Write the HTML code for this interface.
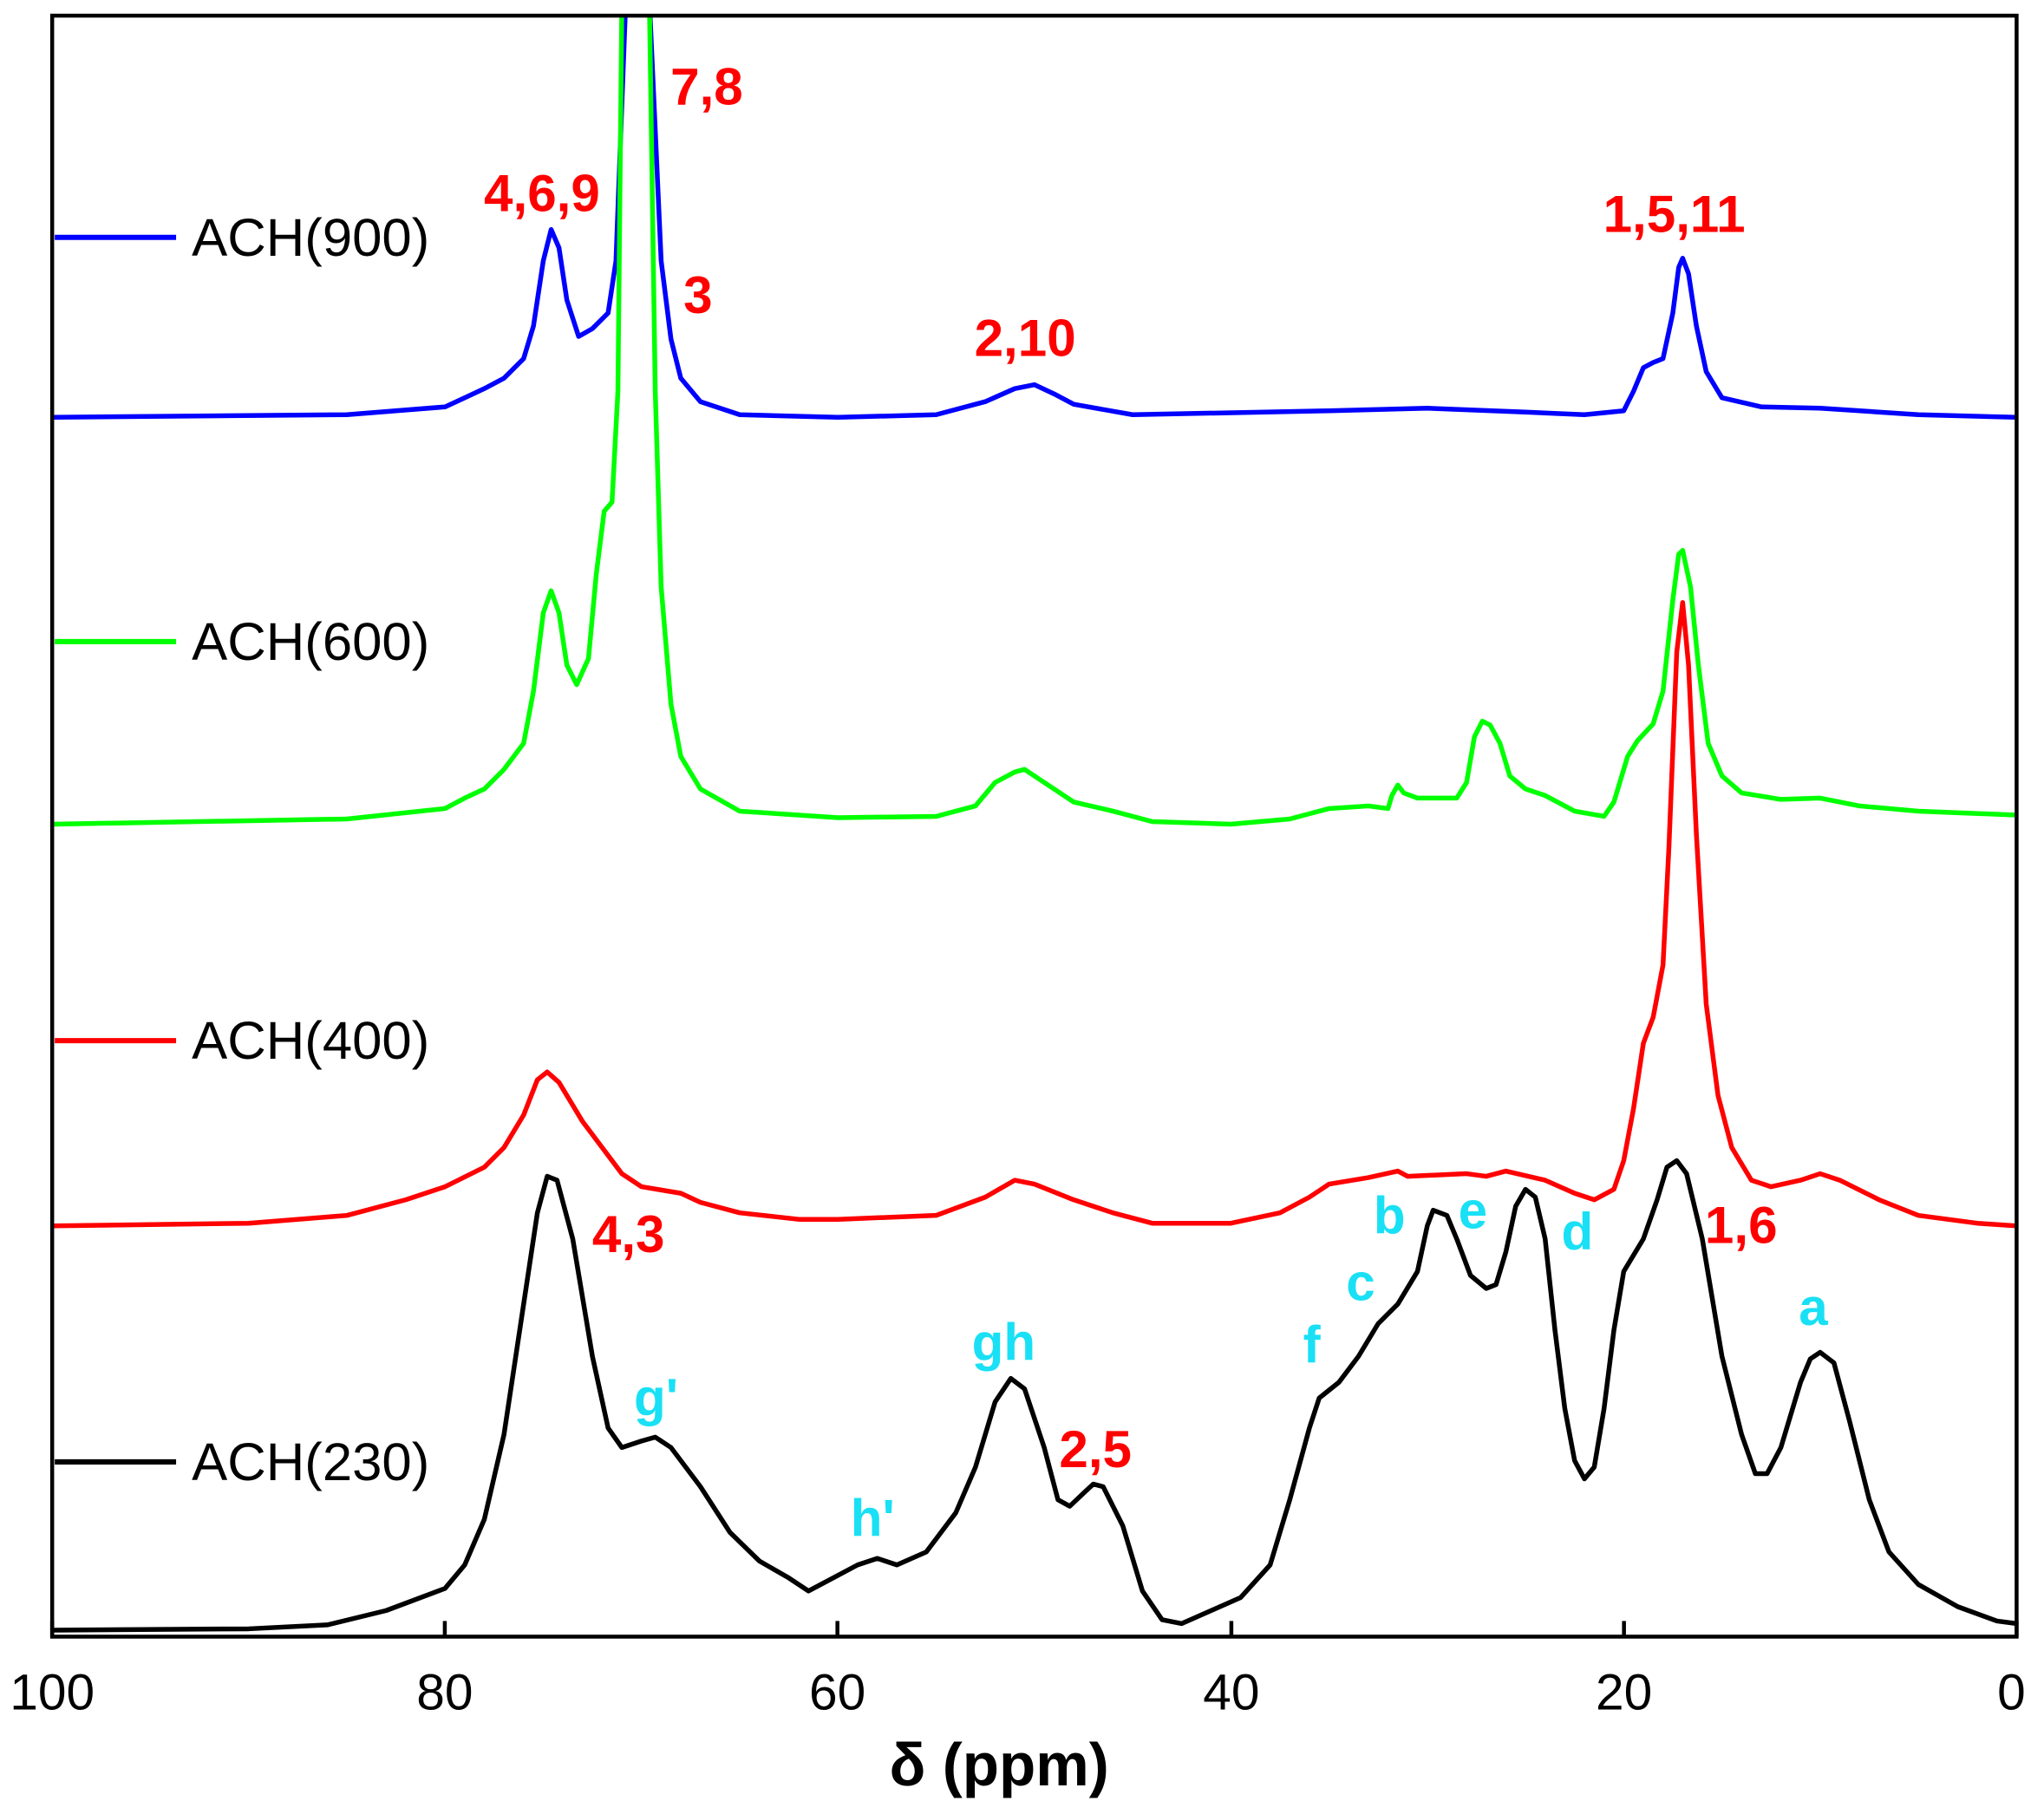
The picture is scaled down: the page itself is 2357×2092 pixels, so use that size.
<!DOCTYPE html>
<html><head><meta charset="utf-8"><style>
html,body{margin:0;padding:0;background:#fff;}
svg{display:block;}
text{font-family:"Liberation Sans",Arial,sans-serif;}
.r{fill:#ff0000;font-weight:bold;font-size:40px;}
.c{fill:#19e0f5;font-weight:bold;font-size:40px;}
.lg{font-size:41px;fill:#000;}
.tk{font-size:39px;fill:#000;}
</style></head><body>
<svg width="2357" height="2092" viewBox="0 0 1567 1391" preserveAspectRatio="none" xmlns="http://www.w3.org/2000/svg">
<defs><clipPath id="cp"><rect x="40" y="12" width="1506" height="1243"/></clipPath></defs>
<g clip-path="url(#cp)">
<g transform="matrix(-15.06,0,0,1,1546,0)" fill="none" stroke-width="5.5" stroke-linejoin="round">
<polyline vector-effect="non-scaling-stroke" stroke="#0000ff" points="100,320 85,318 80,312 79,305 78,298 77,290 76,275 75.5,250 75,200 74.6,176 74.2,190 73.8,230 73.2,258 72.5,252 71.7,240 71.3,200 71,80 70.8,0 69.6,0 69.3,100 69,200 68.5,260 68,290 67,308 65,318 60,320 55,318 52.5,308 51,298 50,295 49,302 48,310 45,318 35,315 30,313 25,316 22,318 20,315 19.5,300 19,282 18.5,278 18,275 17.5,240 17.2,205 17,198 16.7,210 16.3,250 15.8,285 15,305 13,312 10,313 5,318 0,320"/>
<polyline vector-effect="non-scaling-stroke" stroke="#00ff00" points="100,632 85,628 80,620 79,612 78,605 77,590 76,570 75.5,530 75,470 74.6,453 74.2,470 73.8,510 73.3,525 72.7,505 72.3,440 71.9,392 71.5,385 71.2,300 71,0 69.6,0 69.3,300 69,450 68.5,540 68,580 67,605 65,622 60,627 55,626 53,618 52,600 51,592 50.5,590 49.5,600 48,615 46,622 44,630 40,632 37,628 35,620 33,618 32,620 31.8,610 31.5,602 31.2,608 30.5,612 28.5,612 28,600 27.6,565 27.2,553 26.8,556 26.3,570 25.8,595 25,605 24,610 22.5,622 21,626 20.5,615 19.8,580 19.3,568 18.5,555 18,530 17.5,460 17.2,425 17,422 16.6,450 16.2,510 15.7,570 15,595 14,608 12,613 10,612 8,618 5,622 0,625"/>
<polyline vector-effect="non-scaling-stroke" stroke="#ff0000" points="100,940 90,938 85,932 82,920 80,910 78,895 77,880 76,855 75.3,828 74.8,822 74.2,830 73,860 72,880 71,900 70,910 68,915 67,922 65,930 62,935 60,935 55,932 52.5,918 51,905 50,908 48,920 46,930 44,938 42,938 40,938 37.5,930 36,918 35,908 33,903 31.5,898 31,902 28,900 27,902 26,898 24,905 22.5,915 21.5,920 20.5,912 20,890 19.5,850 19,800 18.5,780 18,740 17.7,650 17.3,500 17,462 16.7,510 16.3,640 15.8,770 15.2,840 14.5,880 13.5,905 12.5,910 11,905 10,900 9,905 7,920 5,932 2,938 0,940"/>
<polyline vector-effect="non-scaling-stroke" stroke="#000000" points="100,1250 90,1249 86,1246 83,1235 80,1218 79,1200 78,1165 77,1100 76,1000 75.3,930 74.8,902 74.3,905 73.5,950 72.5,1040 71.7,1095 71,1110 70,1105 69.3,1102 68.5,1110 67,1140 65.5,1175 64,1197 62.5,1210 61.5,1220 60.5,1212 59,1200 58,1195 57,1200 55.5,1190 54,1160 53,1125 52,1075 51.2,1057 50.5,1065 49.5,1110 48.8,1150 48.2,1155 47.5,1145 47,1138 46.5,1140 45.5,1170 44.5,1220 43.5,1242 42.5,1245 41,1235 39.5,1225 38,1200 37,1150 36,1095 35.5,1072 34.5,1060 33.5,1040 32.5,1015 31.5,1000 30.5,975 30,940 29.7,928 29,932 28.5,950 27.8,978 27,988 26.5,985 26,960 25.5,925 25,912 24.5,918 24,950 23.5,1020 23,1080 22.5,1120 22,1134 21.5,1125 21,1080 20.5,1020 20,975 19,950 18.3,920 17.8,895 17.3,890 16.8,900 16,950 15,1040 14,1100 13.3,1130 12.7,1130 12,1110 11,1060 10.5,1042 10,1037 9.3,1045 8.5,1090 7.5,1150 6.5,1190 5,1215 3,1232 1,1243 0,1245"/>
</g></g>
<rect x="40" y="12" width="1506" height="1243" fill="none" stroke="#000" stroke-width="3"/>
<g stroke="#000" stroke-width="3">
<line x1="40" y1="1255" x2="40" y2="1243"/><line x1="341" y1="1255" x2="341" y2="1243"/><line x1="642" y1="1255" x2="642" y2="1243"/><line x1="944" y1="1255" x2="944" y2="1243"/><line x1="1245" y1="1255" x2="1245" y2="1243"/><line x1="1546" y1="1255" x2="1546" y2="1243"/>
</g>
<g class="tk" text-anchor="middle">
<text x="40" y="1311">100</text><text x="341" y="1311">80</text><text x="642" y="1311">60</text><text x="944" y="1311">40</text><text x="1245" y="1311">20</text><text x="1542" y="1311">0</text>
</g>
<text x="766" y="1369" text-anchor="middle" font-size="46" font-weight="bold">δ (ppm)</text>
<g stroke-width="4">
<line x1="42" y1="182" x2="135" y2="182" stroke="#0000ff"/>
<line x1="42" y1="492" x2="135" y2="492" stroke="#00ff00"/>
<line x1="42" y1="798" x2="135" y2="798" stroke="#ff0000"/>
<line x1="42" y1="1121" x2="135" y2="1121" stroke="#000"/>
</g>
<text class="lg" x="147" y="196">ACH(900)</text>
<text class="lg" x="147" y="506">ACH(600)</text>
<text class="lg" x="147" y="812">ACH(400)</text>
<text class="lg" x="147" y="1135">ACH(230)</text>
<text class="r" x="514" y="80">7,8</text>
<text class="r" x="371" y="162">4,6,9</text>
<text class="r" x="524" y="240">3</text>
<text class="r" x="747" y="273">2,10</text>
<text class="r" x="1229" y="178">1,5,11</text>
<text class="r" x="454" y="960">4,3</text>
<text class="r" x="812" y="1125">2,5</text>
<text class="r" x="1307" y="953">1,6</text>
<text class="c" x="1053" y="946">b</text>
<text class="c" x="1118" y="942">e</text>
<text class="c" x="1197" y="958">d</text>
<text class="c" x="1032" y="997">c</text>
<text class="c" x="999" y="1045">f</text>
<text class="c" x="1379" y="1016">a</text>
<text class="c" x="745" y="1043">gh</text>
<text class="c" x="486" y="1085">g'</text>
<text class="c" x="652" y="1178">h'</text>
</svg>
</body></html>
